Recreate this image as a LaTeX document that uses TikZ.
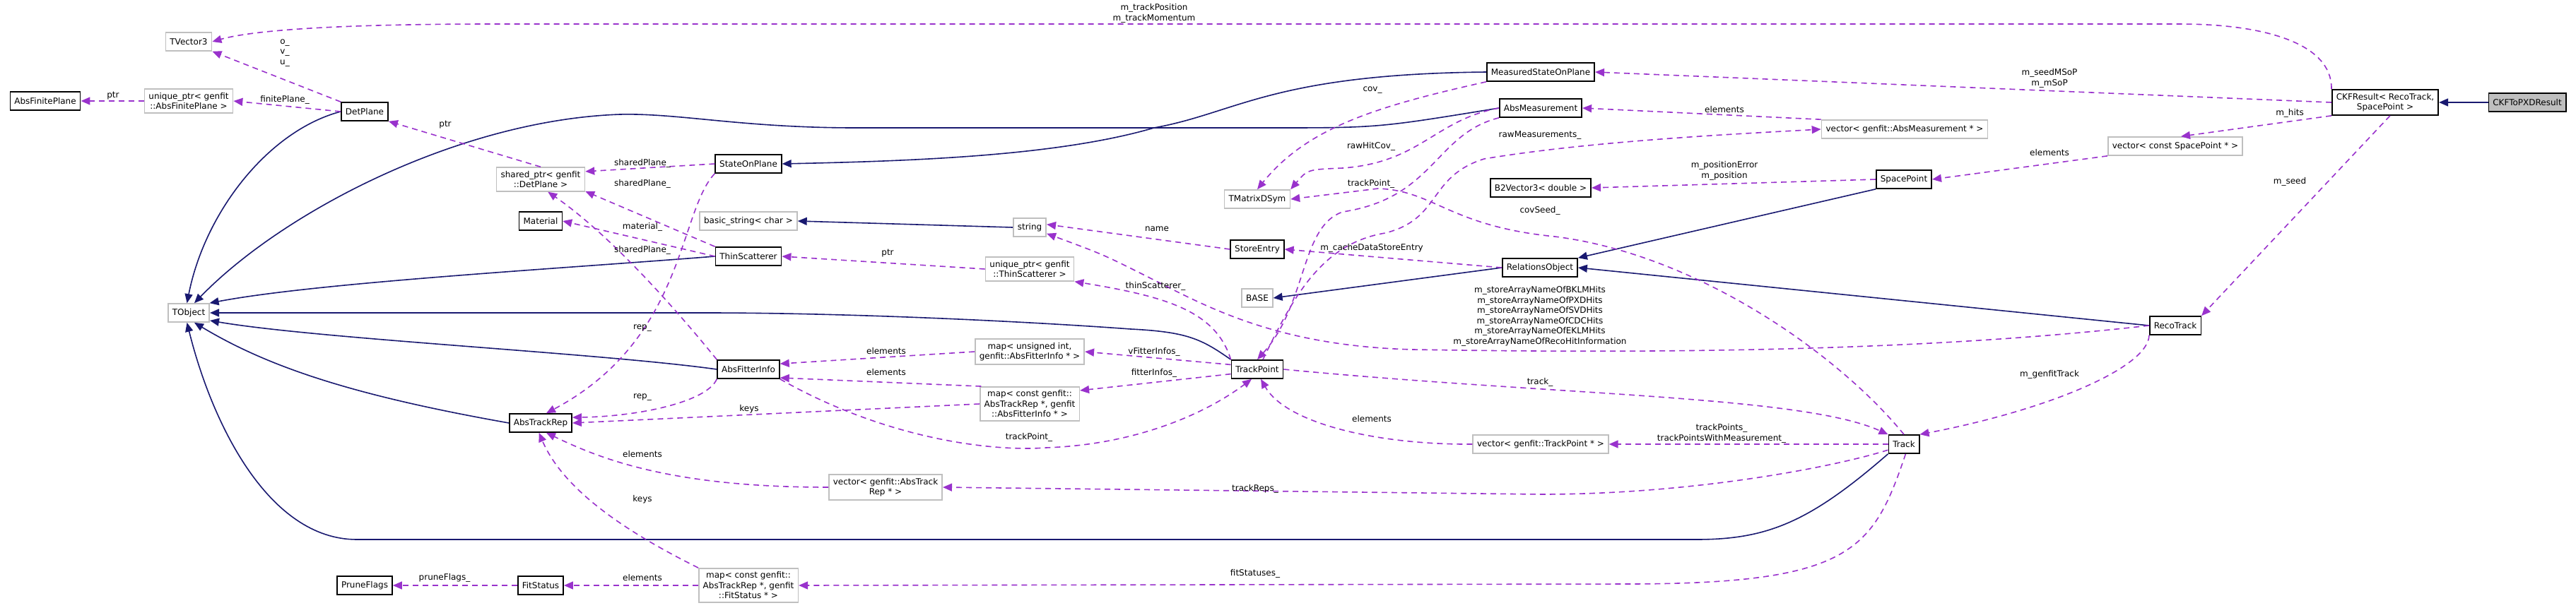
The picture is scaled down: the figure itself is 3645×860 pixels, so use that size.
\documentclass[tikz,border=0pt]{standalone}
\usepackage{fontspec}
\setmainfont{DejaVu Sans}
\usetikzlibrary{arrows.meta}
\definecolor{inhblue}{RGB}{25,25,112}
\definecolor{usepurple}{RGB}{153,50,204}
\definecolor{extgray}{RGB}{191,191,191}
\tikzset{
  cls/.style={draw=black, line width=1.6pt, fill=white, inner xsep=6pt, inner ysep=5pt, minimum height=26pt, align=center},
  ext/.style={cls, draw=extgray},
  cur/.style={cls, fill=extgray},
  inh/.style={draw=inhblue, line width=1.6pt, -{Triangle[length=13pt,width=11pt]}},
  use/.style={draw=usepurple, line width=1.6pt, dash pattern=on 8pt off 6pt, -{Triangle[length=13pt,width=11pt]}},
  lbl/.style={inner sep=0pt, align=center},
}
\begin{document}
\begin{tikzpicture}[x=1pt, y=-1pt, font=\fontsize{12}{14.5}\selectfont]
\useasboundingbox (0,0) rectangle (3645,860);

% Klassen links
\node[ext] (TVector3) at (267,59) {TVector3};
\node[cls] (AbsFinitePlane) at (64,143) {AbsFinitePlane};
\node[ext] (uptrPlane) at (267,143) {unique\_ptr< genfit\\::AbsFinitePlane >};
\node[cls] (DetPlane) at (516,158) {DetPlane};
\node[ext] (sptrPlane) at (765,254) {shared\_ptr< genfit\\::DetPlane >};
\node[cls] (Material) at (765,313) {Material};
\node[ext] (TObject) at (267,443) {TObject};
\node[cls] (AbsTrackRep) at (765,599) {AbsTrackRep};
\node[cls] (PruneFlags) at (516,829) {PruneFlags};
\node[cls] (FitStatus) at (765,829) {FitStatus};

% Mitte
\node[cls] (StateOnPlane) at (1059,232) {StateOnPlane};
\node[ext] (basicString) at (1059,313) {basic\_string< char >};
\node[cls] (ThinScatterer) at (1059,363) {ThinScatterer};
\node[cls] (AbsFitterInfo) at (1059,523) {AbsFitterInfo};
\node[ext] (mapRepStatus) at (1059,829) {map< const genfit::\\AbsTrackRep *, genfit\\::FitStatus * >};
\node[ext] (str) at (1457,322) {string};
\node[ext] (uptrScat) at (1457,381) {unique\_ptr< genfit\\::ThinScatterer >};
\node[ext] (mapUFitter) at (1457,498) {map< unsigned int,\\genfit::AbsFitterInfo * >};
\node[ext] (mapRepFitter) at (1457,572) {map< const genfit::\\AbsTrackRep *, genfit\\::AbsFitterInfo * >};
\node[ext] (vecTrackRep) at (1253,690) {vector< genfit::AbsTrack\\Rep * >};
\node[ext] (TMatrixDSym) at (1779,282) {TMatrixDSym};
\node[cls] (StoreEntry) at (1779,353) {StoreEntry};
\node[ext] (BASE) at (1779,422) {BASE};
\node[cls] (TrackPoint) at (1779,523) {TrackPoint};

% rechts
\node[cls] (MeasSoP) at (2180,102) {MeasuredStateOnPlane};
\node[cls] (AbsMeasurement) at (2180,153) {AbsMeasurement};
\node[cls] (B2Vector3) at (2180,266) {B2Vector3< double >};
\node[cls] (RelationsObject) at (2179,379) {RelationsObject};
\node[ext] (vecTrackPoint) at (2180,629) {vector< genfit::TrackPoint * >};
\node[ext] (vecMeas) at (2695,183) {vector< genfit::AbsMeasurement * >};
\node[cls] (SpacePoint) at (2694,254) {SpacePoint};
\node[cls] (Track) at (2694,629) {Track};
\node[ext] (vecSP) at (3078,207) {vector< const SpacePoint * >};
\node[cls] (CKFResult) at (3375,145) {CKFResult< RecoTrack,\\SpacePoint >};
\node[cur] (CKFToPXDResult) at (3576,145) {CKFToPXDResult};
\node[cls] (RecoTrack) at (3078,461) {RecoTrack};

% Vererbung
\draw[inh] (DetPlane.west) .. controls (380,185) and (290,300) .. (TObject.100);
\draw[inh] (AbsMeasurement.west) .. controls (1950,181) .. (1800,181) -- (1210,181)
  .. controls (1050,181) and (960,160) .. (877,162) .. controls (650,170) and (400,300) .. (TObject.60);
\draw[inh] (ThinScatterer.west) .. controls (800,380) and (450,400) .. (TObject.25);
\draw[inh] (TrackPoint.north west) .. controls (1700,480) and (1680,470) .. (1600,466)
  .. controls (1450,455) and (1200,443) .. (1000,443) -- (TObject.east);
\draw[inh] (AbsFitterInfo.west) .. controls (850,500) and (450,480) .. (TObject.-20);
\draw[inh] (AbsTrackRep.west) .. controls (500,560) and (380,520) .. (TObject.-60);
\draw[inh] (Track.south west) .. controls (2560,740) and (2500,764) .. (2400,764) -- (505,764)
  .. controls (380,764) and (300,600) .. (TObject.-100);
\draw[inh] (MeasSoP.west) .. controls (1800,105) and (1750,160) .. (1633,181)
  .. controls (1500,220) and (1300,228) .. (StateOnPlane.east);
\draw[inh] (str.west) -- (basicString.east);
\draw[inh] (RelationsObject.west) -- (BASE.east);
\draw[inh] (SpacePoint.south west) -- (RelationsObject.north east);
\draw[inh] (RecoTrack.west) -- (RelationsObject.east);
\draw[inh] (CKFToPXDResult.west) -- (CKFResult.east);

% Verwendung
\draw[use] (DetPlane.north west) -- (TVector3.south east);
\draw[use] (CKFResult.north west) .. controls (3300,60) and (3200,34) .. (3085,34) -- (700,34)
  .. controls (450,34) and (350,45) .. (TVector3.east);
\draw[use] (uptrPlane.west) -- (AbsFinitePlane.east);
\draw[use] (DetPlane.west) -- (uptrPlane.east);
\draw[use] (sptrPlane.north) -- (DetPlane.south east);
\draw[use] (StateOnPlane.west) -- (sptrPlane.10);
\draw[use] (ThinScatterer.north west) -- (sptrPlane.-15);
\draw[use] (AbsFitterInfo.north west) .. controls (950,430) and (860,330) .. (sptrPlane.-60);
\draw[use] (ThinScatterer.west) -- (Material.east);
\draw[use] (StateOnPlane.south west) .. controls (960,300) and (970,480) .. (AbsTrackRep.60);
\draw[use] (AbsFitterInfo.south west) .. controls (1000,570) and (900,590) .. (AbsTrackRep.10);
\draw[use] (mapRepFitter.west) -- (AbsTrackRep.east);
\draw[use] (vecTrackRep.west) .. controls (950,690) and (850,650) .. (AbsTrackRep.-60);
\draw[use] (mapRepStatus.north west) .. controls (900,760) and (800,700) .. (AbsTrackRep.-100);
\draw[use] (mapRepStatus.west) -- (FitStatus.east);
\draw[use] (FitStatus.west) -- (PruneFlags.east);
\draw[use] (mapUFitter.west) -- (AbsFitterInfo.10);
\draw[use] (mapRepFitter.160) -- (AbsFitterInfo.-15);
\draw[use] (AbsFitterInfo.south east) .. controls (1250,620) and (1400,640) .. (1480,634)
  .. controls (1600,630) and (1700,590) .. (TrackPoint.-120);
\draw[use] (TrackPoint.170) -- (mapUFitter.east);
\draw[use] (TrackPoint.190) -- (mapRepFitter.15);
\draw[use] (uptrScat.west) -- (ThinScatterer.east);
\draw[use] (TrackPoint.north west) .. controls (1720,440) and (1650,420) .. (uptrScat.south east);
\draw[use] (StoreEntry.west) -- (str.10);
\draw[use] (RecoTrack.west) .. controls (2700,500) and (2300,500) .. (2000,495)
  .. controls (1800,490) and (1700,430) .. (1620,390) .. controls (1560,360) .. (str.-20);
\draw[use] (RelationsObject.west) -- (StoreEntry.east);
\draw[use] (MeasSoP.south west) .. controls (1950,150) and (1850,180) .. (TMatrixDSym.north);
\draw[use] (AbsMeasurement.west) .. controls (2030,170) and (2010,230) .. (1900,238)
  .. controls (1850,240) .. (TMatrixDSym.north east);
\draw[use] (Track.north) .. controls (2600,500) and (2400,360) .. (2200,335)
  .. controls (2050,320) and (2030,270) .. (1950,267) -- (TMatrixDSym.east);
\draw[use] (AbsMeasurement.south west) .. controls (2030,190) and (2030,280) .. (1900,300)
  .. controls (1840,320) and (1850,430) .. (TrackPoint.north);
\draw[use] (TrackPoint.60) .. controls (1830,420) and (1870,345) .. (1960,330)
  .. controls (2040,310) and (2020,250) .. (2100,225) .. controls (2250,200) and (2450,190) .. (vecMeas.west);
\draw[use] (vecMeas.north west) -- (AbsMeasurement.east);
\draw[use] (SpacePoint.west) -- (B2Vector3.east);
\draw[use] (vecSP.south west) -- (SpacePoint.east);
\draw[use] (CKFResult.south west) -- (vecSP.60);
\draw[use] (CKFResult.west) -- (MeasSoP.east);
\draw[use] (CKFResult.-70) -- (RecoTrack.north east);
\draw[use] (RecoTrack.south west) .. controls (3040,520) and (2900,580) .. (Track.north east);
\draw[use] (TrackPoint.east) .. controls (2200,560) and (2550,560) .. (Track.north west);
\draw[use] (Track.west) -- (vecTrackPoint.east);
\draw[use] (vecTrackPoint.west) .. controls (1950,630) and (1820,600) .. (TrackPoint.-70);
\draw[use] (Track.200) .. controls (2600,660) and (2400,700) .. (2180,700) -- (vecTrackRep.east);
\draw[use] (Track.-80) .. controls (2650,780) and (2620,827) .. (2300,827) -- (mapRepStatus.east);

% Beschriftungen
\node[lbl] (lOVU) at (403,75) {o\_\\v\_\\u\_};
\node[lbl] (lTrackPos) at (1633,19) {m\_trackPosition\\m\_trackMomentum};
\node[lbl] (lPtrA) at (160,136) {ptr};
\node[lbl] (lFinite) at (403,141) {finitePlane\_};
\node[lbl] (lPtrB) at (630,177) {ptr};
\node[lbl] (lShA) at (909,231) {sharedPlane\_};
\node[lbl] (lShB) at (909,260) {sharedPlane\_};
\node[lbl] (lShC) at (909,354) {sharedPlane\_};
\node[lbl] (lMat) at (909,321) {material\_};
\node[lbl] (lRepA) at (909,465) {rep\_};
\node[lbl] (lRepB) at (909,563) {rep\_};
\node[lbl] (lKeysA) at (1060,579) {keys};
\node[lbl] (lElA) at (909,643) {elements};
\node[lbl] (lKeysB) at (909,707) {keys};
\node[lbl] (lElB) at (909,818) {elements};
\node[lbl] (lPrune) at (629,818) {pruneFlags\_};
\node[lbl] (lElC) at (1254,497) {elements};
\node[lbl] (lElD) at (1254,527) {elements};
\node[lbl] (lVFit) at (1633,498) {vFitterInfos\_};
\node[lbl] (lFit) at (1633,528) {fitterInfos\_};
\node[lbl] (lTPA) at (1456,619) {trackPoint\_};
\node[lbl] (lElE) at (1941,593) {elements};
\node[lbl] (lReps) at (1776,692) {trackReps\_};
\node[lbl] (lStat) at (1776,812) {fitStatuses\_};
\node[lbl] (lTrack) at (2179,541) {track\_};
\node[lbl] (lPtrC) at (1256,359) {ptr};
\node[lbl] (lName) at (1637,324) {name};
\node[lbl] (lThin) at (1635,405) {thinScatterer\_};
\node[lbl] (lCov) at (1942,128) {cov\_};
\node[lbl] (lRawCov) at (1940,207) {rawHitCov\_};
\node[lbl] (lTPB) at (1940,260) {trackPoint\_};
\node[lbl] (lCovSeed) at (2179,298) {covSeed\_};
\node[lbl] (lCache) at (1941,351) {m\_cacheDataStoreEntry};
\node[lbl] (lStore) at (2179,448) {m\_storeArrayNameOfBKLMHits\\m\_storeArrayNameOfPXDHits\\m\_storeArrayNameOfSVDHits\\m\_storeArrayNameOfCDCHits\\m\_storeArrayNameOfEKLMHits\\m\_storeArrayNameOfRecoHitInformation};
\node[lbl] (lRawMeas) at (2179,192) {rawMeasurements\_};
\node[lbl] (lElF) at (2440,155) {elements};
\node[lbl] (lPos) at (2440,242) {m\_positionError\\m\_position};
\node[lbl] (lElG) at (2900,216) {elements};
\node[lbl] (lSeedMSoP) at (2900,111) {m\_seedMSoP\\m\_mSoP};
\node[lbl] (lHits) at (3240,160) {m\_hits};
\node[lbl] (lSeed) at (3240,257) {m\_seed};
\node[lbl] (lGenfit) at (2900,530) {m\_genfitTrack};
\node[lbl] (lTPoints) at (2436,614) {trackPoints\_\\trackPointsWithMeasurement\_};
\end{tikzpicture}
\end{document}
